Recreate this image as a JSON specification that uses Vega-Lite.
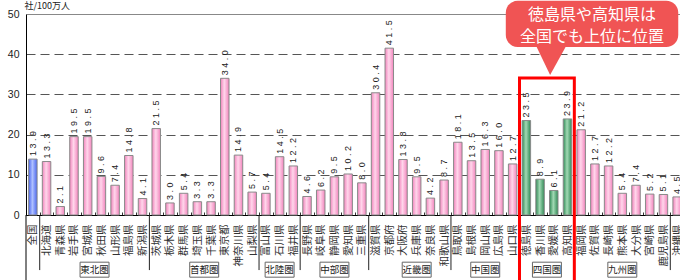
{
  "$schema": "https://vega.github.io/schema/vega-lite/v6.json",
  "autosize": "none",
  "width": 654,
  "height": 201,
  "padding": {"left": 26, "top": 14, "right": 0, "bottom": 65},
  "background": "white",
  "config": {"view": {"stroke": null}},
  "datasets": {
    "prefs": [
      {"pref": "全国", "v": 13.9, "region": "全国"},
      {"pref": "北海道", "v": 13.3, "region": "東北圏"},
      {"pref": "青森県", "v": 2.1, "region": "東北圏"},
      {"pref": "岩手県", "v": 19.5, "region": "東北圏"},
      {"pref": "宮城県", "v": 19.5, "region": "東北圏"},
      {"pref": "秋田県", "v": 9.6, "region": "東北圏"},
      {"pref": "山形県", "v": 7.4, "region": "東北圏"},
      {"pref": "福島県", "v": 14.8, "region": "東北圏"},
      {"pref": "新潟県", "v": 4.1, "region": "東北圏"},
      {"pref": "茨城県", "v": 21.5, "region": "首都圏"},
      {"pref": "栃木県", "v": 3.0, "region": "首都圏"},
      {"pref": "群馬県", "v": 5.4, "region": "首都圏"},
      {"pref": "埼玉県", "v": 3.3, "region": "首都圏"},
      {"pref": "千葉県", "v": 3.3, "region": "首都圏"},
      {"pref": "東京都", "v": 34.0, "region": "首都圏"},
      {"pref": "神奈川県", "v": 14.9, "region": "首都圏"},
      {"pref": "山梨県", "v": 5.7, "region": "首都圏"},
      {"pref": "富山県", "v": 5.4, "region": "北陸圏"},
      {"pref": "石川県", "v": 14.5, "region": "北陸圏"},
      {"pref": "福井県", "v": 12.2, "region": "北陸圏"},
      {"pref": "長野県", "v": 4.6, "region": "中部圏"},
      {"pref": "岐阜県", "v": 6.2, "region": "中部圏"},
      {"pref": "静岡県", "v": 9.5, "region": "中部圏"},
      {"pref": "愛知県", "v": 10.2, "region": "中部圏"},
      {"pref": "三重県", "v": 8.0, "region": "中部圏"},
      {"pref": "滋賀県", "v": 30.4, "region": "近畿圏"},
      {"pref": "京都府", "v": 41.5, "region": "近畿圏"},
      {"pref": "大阪府", "v": 13.8, "region": "近畿圏"},
      {"pref": "兵庫県", "v": 9.5, "region": "近畿圏"},
      {"pref": "奈良県", "v": 4.2, "region": "近畿圏"},
      {"pref": "和歌山県", "v": 8.7, "region": "近畿圏"},
      {"pref": "鳥取県", "v": 18.1, "region": "中国圏"},
      {"pref": "島根県", "v": 13.5, "region": "中国圏"},
      {"pref": "岡山県", "v": 16.3, "region": "中国圏"},
      {"pref": "広島県", "v": 16.0, "region": "中国圏"},
      {"pref": "山口県", "v": 12.7, "region": "中国圏"},
      {"pref": "徳島県", "v": 23.5, "region": "四国圏"},
      {"pref": "香川県", "v": 8.9, "region": "四国圏"},
      {"pref": "愛媛県", "v": 6.1, "region": "四国圏"},
      {"pref": "高知県", "v": 23.9, "region": "四国圏"},
      {"pref": "福岡県", "v": 21.2, "region": "九州圏"},
      {"pref": "佐賀県", "v": 12.7, "region": "九州圏"},
      {"pref": "長崎県", "v": 12.2, "region": "九州圏"},
      {"pref": "熊本県", "v": 5.4, "region": "九州圏"},
      {"pref": "大分県", "v": 7.4, "region": "九州圏"},
      {"pref": "宮崎県", "v": 5.2, "region": "九州圏"},
      {"pref": "鹿児島県", "v": 5.1, "region": "九州圏"},
      {"pref": "沖縄県", "v": 4.5, "region": "沖縄"}
    ],
    "dividers": [
      {"pref": "北海道"}, {"pref": "茨城県"}, {"pref": "富山県"}, {"pref": "長野県"},
      {"pref": "滋賀県"}, {"pref": "鳥取県"}, {"pref": "徳島県"}, {"pref": "福岡県"}, {"pref": "沖縄県"}
    ],
    "groupsMid": [
      {"pref": "石川県", "label": "北陸圏"},
      {"pref": "静岡県", "label": "中部圏"},
      {"pref": "兵庫県", "label": "近畿圏"},
      {"pref": "岡山県", "label": "中国圏"},
      {"pref": "熊本県", "label": "九州圏"}
    ],
    "groupsEdge": [
      {"pref": "宮城県", "label": "東北圏"},
      {"pref": "埼玉県", "label": "首都圏"},
      {"pref": "香川県", "label": "四国圏"}
    ]
  },
  "layer": [
    {
      "data": {"name": "prefs"},
      "transform": [{"filter": "datum.region != '全国' && datum.region != '四国圏'"}],
      "mark": {
        "type": "bar", "width": {"band": 0.62}, "stroke": "#8a8a8a", "strokeWidth": 1,
        "fill": {"gradient": "linear", "x1": 0, "y1": 0, "x2": 1, "y2": 0,
          "stops": [{"offset": 0, "color": "#F284BC"}, {"offset": 0.45, "color": "#FFD6EB"}, {"offset": 1, "color": "#F284BC"}]}
      },
      "encoding": {
        "x": {"field": "pref", "type": "nominal", "sort": null,
          "scale": {"domain": ["全国","北海道","青森県","岩手県","宮城県","秋田県","山形県","福島県","新潟県","茨城県","栃木県","群馬県","埼玉県","千葉県","東京都","神奈川県","山梨県","富山県","石川県","福井県","長野県","岐阜県","静岡県","愛知県","三重県","滋賀県","京都府","大阪府","兵庫県","奈良県","和歌山県","鳥取県","島根県","岡山県","広島県","山口県","徳島県","香川県","愛媛県","高知県","福岡県","佐賀県","長崎県","熊本県","大分県","宮崎県","鹿児島県","沖縄県"],
            "range": [0, 658], "paddingInner": 0, "paddingOuter": 0},
          "axis": {
            "title": null, "labelAngle": 270, "labelAlign": "right", "labelBaseline": "middle",
            "labelFont": "Noto Sans CJK JP", "labelFontSize": 10.5, "labelColor": "#333",
            "labelPadding": 12, "labelOverlap": false, "labelLimit": 100,
            "ticks": true, "tickBand": "extent", "tickSize": -3, "tickColor": "#333",
            "domainColor": "#000", "domainWidth": 1, "grid": false
          }
        },
        "y": {"field": "v", "type": "quantitative",
          "scale": {"domain": [0, 50], "nice": false, "zero": true},
          "axis": {
            "title": "社/100万人", "titleAngle": 0, "titleAlign": "left", "titleBaseline": "middle",
            "titleX": -2, "titleY": -9, "titleFontSize": 9, "titleFontWeight": "normal",
            "titleFont": "Liberation Sans Narrow, Noto Sans CJK JP", "titleColor": "#222",
            "values": [0, 10, 20, 30, 40, 50], "ticks": false, "labelPadding": 7,
            "labelFont": "Liberation Sans Narrow, Liberation Sans", "labelFontSize": 10.5, "labelColor": "#222",
            "domainColor": "#000", "domainWidth": 1,
            "grid": true,
            "gridColor": {"condition": {"test": "datum.value == 50", "value": "#888"}, "value": "#555"},
            "gridDash": {"condition": {"test": "datum.value == 50", "value": []}, "value": [9, 5]},
            "gridWidth": 1.2
          }
        }
      }
    },
    {
      "data": {"name": "prefs"},
      "transform": [{"filter": "datum.region == '全国'"}],
      "mark": {
        "type": "bar", "width": {"band": 0.62}, "stroke": "#8a8a8a", "strokeWidth": 1,
        "fill": {"gradient": "linear", "x1": 0, "y1": 0, "x2": 1, "y2": 0,
          "stops": [{"offset": 0, "color": "#4A66F0"}, {"offset": 0.45, "color": "#AFC0FF"}, {"offset": 1, "color": "#4A66F0"}]}
      },
      "encoding": {
        "x": {"field": "pref", "type": "nominal", "sort": null},
        "y": {"field": "v", "type": "quantitative"}
      }
    },
    {
      "data": {"name": "prefs"},
      "transform": [{"filter": "datum.region == '四国圏'"}],
      "mark": {
        "type": "bar", "width": {"band": 0.62}, "stroke": "#8a8a8a", "strokeWidth": 1,
        "fill": {"gradient": "linear", "x1": 0, "y1": 0, "x2": 1, "y2": 0,
          "stops": [{"offset": 0, "color": "#2F8A55"}, {"offset": 0.45, "color": "#A2D9B4"}, {"offset": 1, "color": "#2F8A55"}]}
      },
      "encoding": {
        "x": {"field": "pref", "type": "nominal", "sort": null},
        "y": {"field": "v", "type": "quantitative"}
      }
    },
    {
      "data": {"name": "prefs"},
      "mark": {
        "type": "text", "angle": 270, "align": "left", "baseline": "middle", "dx": 3,
        "fontSize": 9, "font": "Liberation Sans", "color": "#222",
        "text": {"expr": "join(split(format(datum.v, '.1f'), ''), ' ')"}
      },
      "encoding": {
        "x": {"field": "pref", "type": "nominal", "sort": null},
        "y": {"field": "v", "type": "quantitative"}
      }
    },
    {
      "data": {"name": "dividers"},
      "mark": {"type": "rule", "color": "#222", "strokeWidth": 1},
      "encoding": {
        "x": {"field": "pref", "type": "nominal", "sort": null, "bandPosition": 0},
        "y": {"datum": 0},
        "y2": {"datum": -13.7}
      }
    },
    {
      "data": {"values": [{}]},
      "mark": {"type": "rule", "color": "#000", "strokeWidth": 1},
      "encoding": {
        "x": {"datum": "全国", "bandPosition": 0},
        "y": {"datum": 0},
        "y2": {"datum": -17}
      }
    },
    {
      "data": {"name": "groupsMid"},
      "mark": {"type": "point", "shape": "M-1.93,-1H1.93V1H-1.93Z", "size": 225, "filled": true, "fill": "white", "stroke": "#666", "strokeWidth": 1, "opacity": 1},
      "encoding": {
        "x": {"field": "pref", "type": "nominal", "sort": null},
        "y": {"datum": -13.6}
      }
    },
    {
      "data": {"name": "groupsMid"},
      "mark": {"type": "text", "font": "Noto Sans CJK JP", "fontSize": 9.5, "color": "#222", "baseline": "middle", "align": "center"},
      "encoding": {
        "x": {"field": "pref", "type": "nominal", "sort": null},
        "y": {"datum": -13.6},
        "text": {"field": "label"}
      }
    },
    {
      "data": {"name": "groupsEdge"},
      "mark": {"type": "point", "shape": "M-1.93,-1H1.93V1H-1.93Z", "size": 225, "filled": true, "fill": "white", "stroke": "#666", "strokeWidth": 1, "opacity": 1},
      "encoding": {
        "x": {"field": "pref", "type": "nominal", "sort": null, "bandPosition": 1},
        "y": {"datum": -13.6}
      }
    },
    {
      "data": {"name": "groupsEdge"},
      "mark": {"type": "text", "font": "Noto Sans CJK JP", "fontSize": 9.5, "color": "#222", "baseline": "middle", "align": "center"},
      "encoding": {
        "x": {"field": "pref", "type": "nominal", "sort": null, "bandPosition": 1},
        "y": {"datum": -13.6},
        "text": {"field": "label"}
      }
    },
    {
      "data": {"values": [{}]},
      "mark": {"type": "rect", "fill": "transparent", "stroke": "#FF0000", "strokeWidth": 3},
      "encoding": {
        "x": {"datum": "徳島県", "bandPosition": 0},
        "x2": {"datum": "福岡県", "bandPosition": 0},
        "y": {"datum": 34.1},
        "y2": {"datum": -20}
      }
    },
    {
      "data": {"values": [{}]},
      "mark": {"type": "rect", "fill": "#F05454", "cornerRadius": 12},
      "encoding": {
        "x": {"datum": "山口県", "bandPosition": 0},
        "x2": {"datum": "沖縄県", "bandPosition": 0.58},
        "y": {"datum": 53.3},
        "y2": {"datum": 41.8}
      }
    },
    {
      "data": {"values": [{}]},
      "mark": {"type": "point", "shape": "M-0.73,-0.97L1.27,-0.97L0.2,0.97Z", "size": 1024, "filled": true, "fill": "#F05454", "strokeWidth": 0, "opacity": 1},
      "encoding": {
        "x": {"datum": "香川県", "bandPosition": 1},
        "y": {"datum": 38.68}
      }
    },
    {
      "data": {"values": [{}]},
      "mark": {"type": "text", "text": ["徳島県や高知県は", "全国でも上位に位置"], "lineHeight": 22,
        "font": "Noto Sans CJK JP", "fontSize": 16, "color": "white", "align": "center", "baseline": "middle", "dx": -3},
      "encoding": {
        "x": {"datum": "佐賀県"},
        "y": {"datum": 49.75}
      }
    }
  ]
}
